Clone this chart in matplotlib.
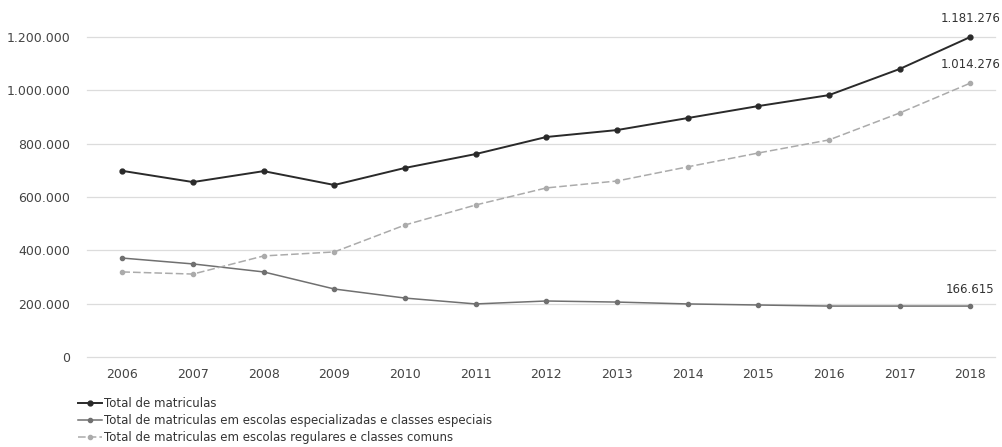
import matplotlib
matplotlib.use("Agg")
import matplotlib.pyplot as plt

years = ["2006", "2007", "2008", "2009", "2010", "2011", "2012",
         "2013", "2014", "2015", "2016", "2017", "2018"]
total = [698000, 656000, 697000, 645000, 709000, 761000, 825000,
         851000, 896000, 941000, 982000, 1080000, 1200000]
especializadas = [371000, 349000, 319000, 255000, 221000, 199000, 210000,
                  206000, 199000, 195000, 191000, 191000, 191000]
regulares = [319000, 311000, 379000, 394000, 495000, 570000, 634000,
             660000, 713000, 765000, 814000, 915000, 1027000]
yticks = [0, 200000, 400000, 600000, 800000, 1000000, 1200000]
ytick_labels = ["0", "200.000", "400.000", "600.000", "800.000", "1.000.000", "1.200.000"]
series_names = ["Total de matriculas",
                "Total de matriculas em escolas especializadas e classes especiais",
                "Total de matriculas em escolas regulares e classes comuns"]
end_labels = ["1.181.276", "166.615", "1.014.276"]

plt.rcParams['font.family'] = ['DejaVu Sans']

fig = plt.figure(figsize=(10.03, 4.47), dpi=100)
ax = fig.add_axes([87/1003, 90/447, (995-87)/1003, (357-10)/447])

x = list(range(len(years)))
l1, = ax.plot(x, total, color="#2a2a2a", lw=1.4, marker="o", ms=3.5, zorder=4)
l2, = ax.plot(x, especializadas, color="#707070", lw=1.1, marker="o", ms=3, zorder=3)
l3, = ax.plot(x, regulares, color="#ababab", lw=1.1, ls=(0, (5, 2)), marker="o", ms=3, zorder=3)

ax.set_xlim(-0.5, 12.35)
ax.set_ylim(0, 1301250)
ax.set_yticks(yticks)
ax.set_yticklabels(ytick_labels)
ax.set_xticks(x)
ax.set_xticklabels(years)
ax.tick_params(axis="both", length=0, labelsize=9, colors="#444444")
ax.tick_params(axis="y", pad=12)
ax.tick_params(axis="x", pad=8)
for s in ax.spines.values():
    s.set_visible(False)
ax.grid(axis="y", color="#dcdcdc", lw=0.9)
for gl in ax.get_ygridlines():
    gl.set_clip_on(False)
ax.set_axisbelow(True)

ax.annotate(end_labels[0], (x[-1], total[-1]), xytext=(0, 9), textcoords="offset points",
            ha="center", va="bottom", fontsize=8.5, color="#333333")
ax.annotate(end_labels[2], (x[-1], regulares[-1]), xytext=(0, 9), textcoords="offset points",
            ha="center", va="bottom", fontsize=8.5, color="#333333")
ax.annotate(end_labels[1], (x[-1], especializadas[-1]), xytext=(0, 7), textcoords="offset points",
            ha="center", va="bottom", fontsize=8.5, color="#333333")

fig.legend([l1, l2, l3], series_names, loc="upper left", bbox_to_anchor=(0.073, 0.122),
           frameon=False, fontsize=8.5, handlelength=2.0, handletextpad=0.2,
           labelspacing=0.32, borderaxespad=0, labelcolor="#333333")

fig.savefig("out.png", dpi=100)
